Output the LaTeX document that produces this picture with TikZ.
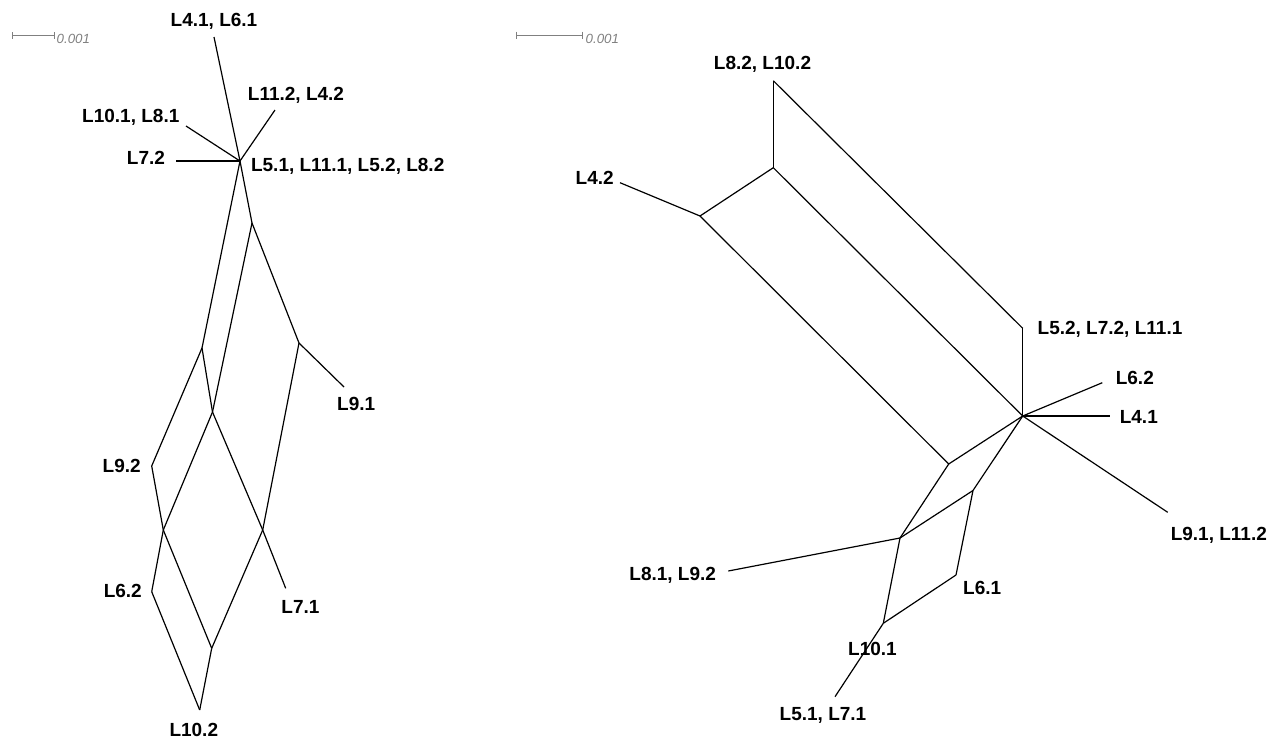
\documentclass[tikz,border=0pt]{standalone}
\usepackage{fontspec}
\setmainfont{Liberation Sans}
\begin{document}
\begin{tikzpicture}[x=1pt,y=-1pt,
  edge/.style={line width=1.2pt,black},
  lab/.style={inner sep=0pt,anchor=base,font=\fontsize{19}{22}\selectfont\bfseries},
  sclab/.style={inner sep=0pt,anchor=base west,text=gray,font=\fontsize{13.3}{15}\selectfont\itshape},
  scbar/.style={line width=1pt,gray}]
\useasboundingbox (0,0) rectangle (1283,742);
% ---------- left network ----------
\coordinate (H) at (240,161);
\coordinate (A) at (252,223);
\coordinate (B) at (202,348);
\coordinate (C) at (212.5,412);
\coordinate (D) at (299,343);
\coordinate (E) at (151.7,466);
\coordinate (F) at (163.3,530);
\coordinate (G) at (262.7,530);
\coordinate (J) at (151.7,591.7);
\coordinate (M) at (211.7,648.3);
\coordinate (K) at (199.7,710);
\coordinate (lA) at (214,37);
\coordinate (lB) at (275,110);
\coordinate (lC) at (186,126);
\coordinate (lD) at (176,161);
\coordinate (lE) at (344,387);
\coordinate (lF) at (285.7,588.3);
\draw[edge] (H) -- (lA);
\draw[edge] (H) -- (lB);
\draw[edge] (H) -- (lC);
\draw[edge] (H) -- (lD);
\draw[edge] (H) -- (A);
\draw[edge] (H) -- (B);
\draw[edge] (A) -- (C);
\draw[edge] (A) -- (D);
\draw[edge] (B) -- (C);
\draw[edge] (B) -- (E);
\draw[edge] (D) -- (lE);
\draw[edge] (D) -- (G);
\draw[edge] (C) -- (F);
\draw[edge] (C) -- (G);
\draw[edge] (E) -- (F);
\draw[edge] (G) -- (lF);
\draw[edge] (G) -- (M);
\draw[edge] (F) -- (J);
\draw[edge] (F) -- (M);
\draw[edge] (J) -- (K);
\draw[edge] (M) -- (K);
\node[lab] (t41) at (214,26.7) {L4.1, L6.1};
\node[lab] (t112) at (296,100) {L11.2, L4.2};
\node[lab] (t101) at (130.8,122.3) {L10.1, L8.1};
\node[lab] (t72) at (146,164) {L7.2};
\node[lab] (t51) at (347.7,171.7) {L5.1, L11.1, L5.2, L8.2};
\node[lab] (t91) at (356.2,410.7) {L9.1};
\node[lab] (t92) at (121.7,472.7) {L9.2};
\node[lab] (t62) at (122.8,597.7) {L6.2};
\node[lab] (t71) at (300.5,613.3) {L7.1};
\node[lab] (t102) at (193.8,736) {L10.2};
% left scale bar
\coordinate (s1a) at (12.7,35.5);
\coordinate (s1b) at (54,35.5);
\draw[scbar] (s1a) -- (s1b);
\draw[scbar] (12.7,32) -- (12.7,39);
\draw[scbar] (54,32) -- (54,39);
\node[sclab] (sc1) at (56.5,43.5) {0.001};
% ---------- right network ----------
\coordinate (Rt) at (773.3,80.7);
\coordinate (P) at (773.3,167.7);
\coordinate (Q) at (700,216);
\coordinate (R) at (1022.7,328.3);
\coordinate (S) at (1022.7,416);
\coordinate (T) at (948.7,464);
\coordinate (U) at (973,490.5);
\coordinate (V) at (900,538);
\coordinate (X) at (956,575);
\coordinate (W) at (883.3,623.3);
\coordinate (rA) at (620,182.7);
\coordinate (rB) at (1102.3,382.7);
\coordinate (rC) at (1110,416);
\coordinate (rD) at (1167.7,512.3);
\coordinate (rE) at (728.3,571);
\coordinate (rF) at (835,696.7);
\draw[edge] (Rt) -- (P);
\draw[edge] (Rt) -- (R);
\draw[edge] (P) -- (S);
\draw[edge] (P) -- (Q);
\draw[edge] (Q) -- (rA);
\draw[edge] (Q) -- (T);
\draw[edge] (R) -- (S);
\draw[edge] (S) -- (rB);
\draw[edge] (S) -- (rC);
\draw[edge] (S) -- (rD);
\draw[edge] (S) -- (T);
\draw[edge] (S) -- (U);
\draw[edge] (T) -- (V);
\draw[edge] (U) -- (V);
\draw[edge] (U) -- (X);
\draw[edge] (V) -- (rE);
\draw[edge] (V) -- (W);
\draw[edge] (X) -- (W);
\draw[edge] (W) -- (rF);
\node[lab] (u82) at (762.5,69.3) {L8.2, L10.2};
\node[lab] (u42) at (594.7,184) {L4.2};
\node[lab] (u52) at (1110,334) {L5.2, L7.2, L11.1};
\node[lab] (u62) at (1134.8,384.3) {L6.2};
\node[lab] (u41) at (1138.8,423.3) {L4.1};
\node[lab] (u91) at (1218.8,540) {L9.1, L11.2};
\node[lab] (u81) at (672.7,580) {L8.1, L9.2};
\node[lab] (u61) at (982.2,594) {L6.1};
\node[lab] (u101) at (872.5,655) {L10.1};
\node[lab] (u51) at (823,720) {L5.1, L7.1};
% right scale bar
\coordinate (s2a) at (516.7,35);
\coordinate (s2b) at (582.7,35);
\draw[scbar] (s2a) -- (s2b);
\draw[scbar] (516.7,31.5) -- (516.7,38.5);
\draw[scbar] (582.7,31.5) -- (582.7,38.5);
\node[sclab] (sc2) at (585.5,43) {0.001};
\end{tikzpicture}
\end{document}
